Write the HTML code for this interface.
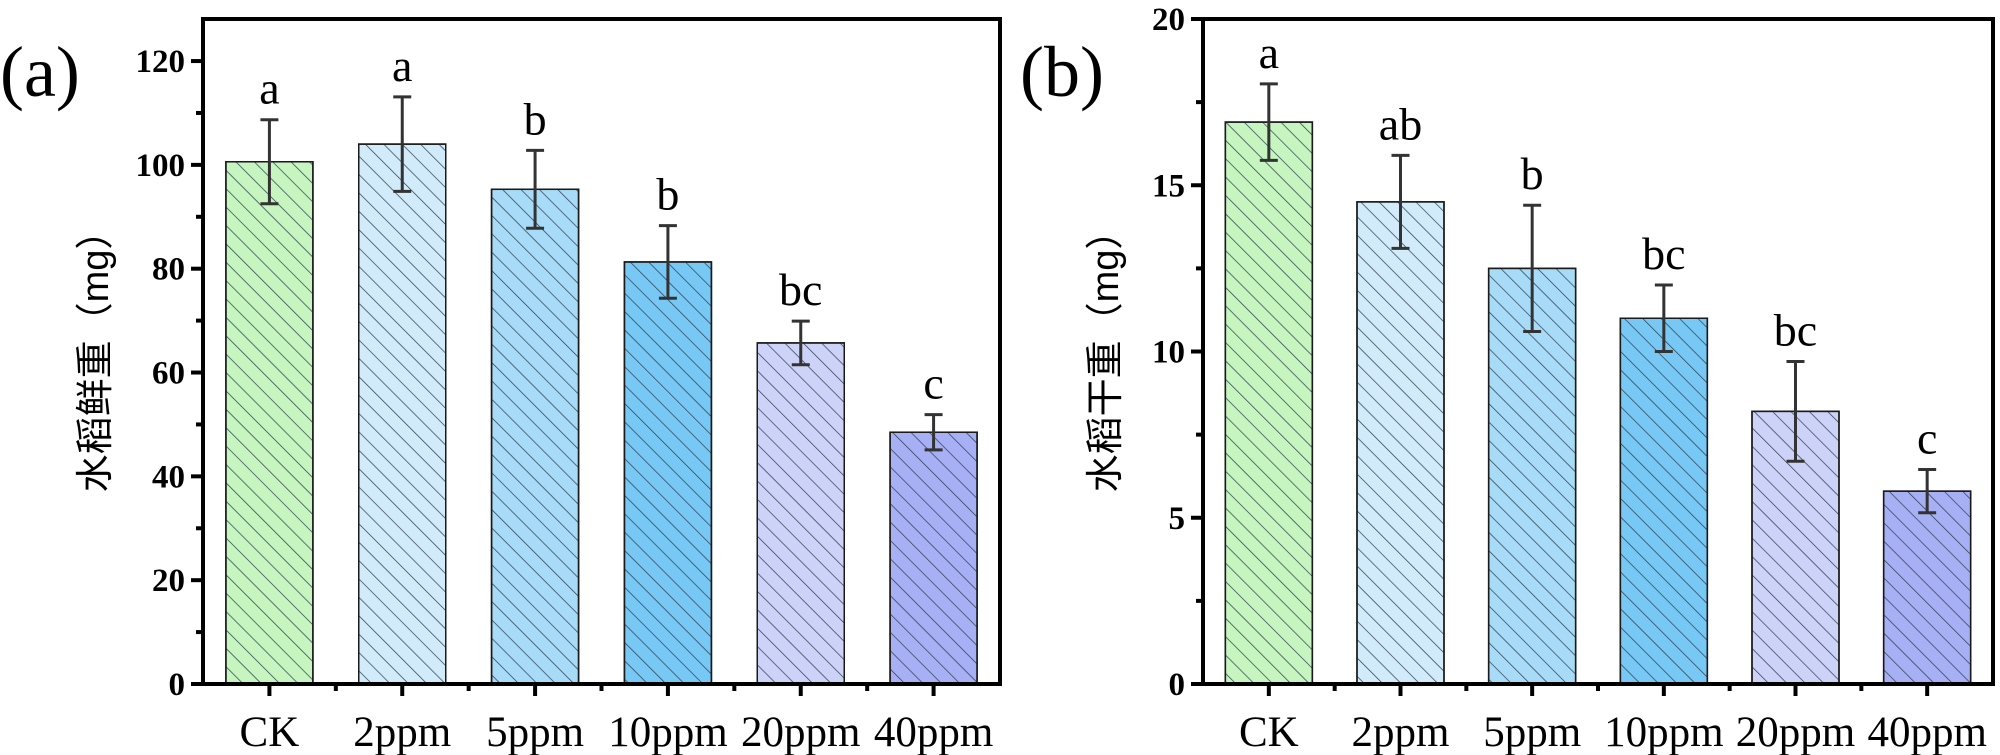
<!DOCTYPE html>
<html><head><meta charset="utf-8"><style>
html,body{margin:0;padding:0;background:#fff;width:2000px;height:755px;overflow:hidden}
svg{display:block}
</style></head><body>
<svg id="chart" width="2000" height="755" xmlns="http://www.w3.org/2000/svg">
<defs>
<pattern id="hatch" patternUnits="userSpaceOnUse" width="13" height="13" patternTransform="rotate(-45)">
<line x1="0" y1="0" x2="0" y2="13" stroke="#2a3a4a" stroke-width="1.4"/>
</pattern>
</defs>
</svg>
<script>
const categories = ["CK","2ppm","5ppm","10ppm","20ppm","40ppm"];
const colors = ["#c6f5c0","#d2ebfa","#a8dbf7","#78c8f5","#cdd3f8","#a8b0f5"];
const freshValues = [100.6,104.0,95.3,81.3,65.7,48.5];
const freshErrors = [8.1,9.1,7.5,7.0,4.2,3.4];
const freshLetters = ["a","a","b","b","bc","c"];
const freshTicks = [0,20,40,60,80,100,120];
const dryValues = [16.9,14.5,12.5,11.0,8.2,5.8];
const dryErrors = [1.15,1.4,1.9,1.0,1.5,0.65];
const dryLetters = ["a","ab","b","bc","bc","c"];
const dryTicks = [0,5,10,15,20];

const svg = document.getElementById('chart');
const NS = 'http://www.w3.org/2000/svg';
function mk(tag, attrs, parent){
  const e = document.createElementNS(NS, tag);
  for (const k in attrs) e.setAttribute(k, attrs[k]);
  (parent||svg).appendChild(e);
  return e;
}
const serif = '"Liberation Serif", "Noto Serif CJK SC", serif';
const cjk = '"Liberation Sans", "Noto Sans CJK SC", sans-serif';

function panel(opt){
  const g = mk('g', {});
  
  
  const L=opt.left, R=opt.right, T=19, B=684;
  const y = v => B - (v - 0) / opt.ymax * (B - T);
  const step = (R - L) / categories.length;
  const x = i => L + step * (i + 0.5);
  const bw = 87;
  categories.forEach((c,i)=>{
    const v = opt.values[i];
    const r = mk('rect',{x:x(i)-bw/2,y:y(v),width:bw,height:B-y(v),fill:colors[i],stroke:'#1a1a1a','stroke-width':1.5},g);
    
    
    const h = mk('rect',{x:x(i)-bw/2,y:y(v),width:bw,height:B-y(v),fill:'url(#hatch)',stroke:'#1a1a1a','stroke-width':1.5},g);
    
    
    const e = opt.errors[i];
    const eg = mk('g',{stroke:'#333','stroke-width':3},g);
    
    
    mk('line',{x1:x(i),x2:x(i),y1:y(v+e),y2:y(v-e)},eg);
    mk('line',{x1:x(i)-9,x2:x(i)+9,y1:y(v+e),y2:y(v+e)},eg);
    mk('line',{x1:x(i)-9,x2:x(i)+9,y1:y(v-e),y2:y(v-e)},eg);
    const t = mk('text',{x:x(i),y:y(v+e)-16,'text-anchor':'middle','font-family':serif,'font-size':46,fill:'#000'},g);
    t.textContent = opt.letters[i];
    
    
    const cl = mk('text',{x:x(i),y:B+62,'text-anchor':'middle','font-family':serif,'font-size':43,fill:'#000'},g);
    cl.textContent = c;
    
    
    mk('line',{x1:x(i),x2:x(i),y1:B,y2:B+12,stroke:'#000','stroke-width':4},g);
    if(i>0) mk('line',{x1:L+step*i,x2:L+step*i,y1:B,y2:B+7,stroke:'#000','stroke-width':4},g);
  });
  opt.ticks.forEach((tv,k)=>{
    mk('line',{x1:L-12,x2:L,y1:y(tv),y2:y(tv),stroke:'#000','stroke-width':4},g);
    const t = mk('text',{x:L-18,y:y(tv)+11,'text-anchor':'end','font-family':serif,'font-size':33,'font-weight':'bold',fill:'#000'},g);
    t.textContent = tv;
    
    
    if(k<opt.ticks.length-1){
      const mv=(tv+opt.ticks[k+1])/2;
      mk('line',{x1:L-7,x2:L,y1:y(mv),y2:y(mv),stroke:'#000','stroke-width':4},g);
    }
  });
  const box = mk('rect',{x:L,y:T,width:R-L,height:B-T,fill:'none',stroke:'#000','stroke-width':4},g);
  
  
  const yt = mk('text',{transform:`translate(${opt.titleX},352) rotate(-90)`,'text-anchor':'middle','font-family':cjk,'font-size':38,fill:'#000'},g);
  yt.textContent = opt.title;
  
  
  const pl = mk('text',{x:opt.labelX,y:96,'font-family':serif,'font-size':72,fill:'#000'},g);
  pl.textContent = opt.label;
  
  
}
panel({name:'panel-a-fresh-weight',left:203,right:1000,ymax:128.1,values:freshValues,errors:freshErrors,letters:freshLetters,ticks:freshTicks,title:'水稻鲜重（mg）',titleX:108,label:'(a)',labelX:0});
panel({name:'panel-b-dry-weight',left:1203,right:1993,ymax:20,values:dryValues,errors:dryErrors,letters:dryLetters,ticks:dryTicks,title:'水稻干重（mg）',titleX:1118,label:'(b)',labelX:1020});
</script>
</body></html>
